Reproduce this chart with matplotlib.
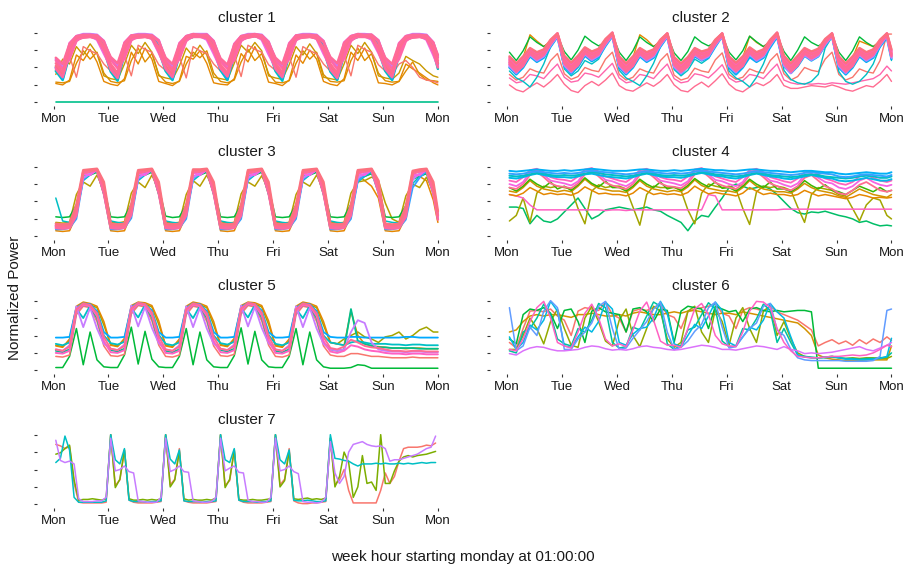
import numpy as np
import matplotlib
matplotlib.use("Agg")
import matplotlib.pyplot as plt

plt.rcParams['font.family'] = ['Liberation Sans', 'DejaVu Sans']

# ---------------- sample hours -----------------
H3 = list(range(1, 167, 3)) + [168]     # clusters 1-6: every 3 hours (57 samples)
H2 = list(range(1, 168, 2))             # cluster 7: every 2 hours (84 samples)
day_ticks = [0, 24, 48, 72, 96, 120, 144, 168]
day_labels = ['Mon', 'Tue', 'Wed', 'Thu', 'Fri', 'Sat', 'Sun', 'Mon']
y_ticks = [0, 0.25, 0.5, 0.75, 1.0]
titles = ['cluster 1', 'cluster 2', 'cluster 3', 'cluster 4', 'cluster 5', 'cluster 6', 'cluster 7']

# ---------------- cluster 1 (values in % of max) -----------------
c1_flat = [0, 0, 0, 0, 0, 0, 0, 0, 0, 0, 0, 0, 0, 0, 0, 0, 0, 0, 0, 0, 0, 0, 0, 0, 0, 0, 0, 0,
           0, 0, 0, 0, 0, 0, 0, 0, 0, 0, 0, 0, 0, 0, 0, 0, 0, 0, 0, 0, 0, 0, 0, 0, 0, 0, 0, 0, 0]
c1_orange1 = [27, 25, 32, 68, 60, 76, 58, 30,
              26, 24, 34, 72, 55, 78, 62, 30,
              27, 24, 31, 66, 62, 74, 56, 28,
              26, 25, 34, 70, 58, 80, 60, 29,
              27, 24, 32, 68, 56, 75, 62, 30,
              26, 24, 34, 72, 60, 78, 58, 28,
              27, 25, 30, 55, 48, 42, 35, 28,
              25]
c1_orange2 = [29, 28, 30, 56, 74, 62, 72, 42,
              30, 28, 31, 60, 78, 58, 70, 40,
              29, 27, 30, 55, 72, 64, 74, 42,
              30, 28, 32, 58, 76, 60, 70, 41,
              29, 28, 31, 56, 74, 62, 72, 40,
              30, 29, 31, 60, 78, 60, 70, 42,
              31, 29, 30, 45, 58, 40, 32, 31,
              30]
c1_orange3 = [40, 62, 55, 80, 68, 84, 70, 38,
              34, 32, 55, 82, 70, 86, 72, 38,
              35, 33, 52, 78, 66, 82, 68, 36,
              34, 32, 56, 82, 72, 86, 74, 38,
              35, 33, 54, 80, 68, 84, 70, 36,
              34, 32, 55, 82, 70, 86, 72, 38,
              35, 33, 42, 66, 60, 55, 45, 38,
              36]
c1_salmon = [46, 40, 66, 36, 80, 74, 70, 55,
             45, 40, 68, 38, 82, 76, 72, 54,
             46, 41, 66, 35, 80, 74, 70, 55,
             45, 40, 68, 37, 82, 76, 72, 54,
             46, 41, 66, 36, 80, 74, 70, 55,
             45, 40, 68, 38, 82, 76, 72, 54,
             45, 40, 55, 60, 50, 36, 32, 30,
             28]
c1_blue = [50, 34, 72, 92, 96, 97, 96, 82,
           52, 35, 73, 93, 96, 97, 95, 81,
           50, 34, 72, 92, 97, 97, 96, 83,
           49, 34, 71, 92, 96, 96, 96, 82,
           50, 35, 72, 93, 96, 97, 95, 81,
           52, 34, 73, 92, 97, 97, 96, 82,
           50, 34, 72, 92, 96, 97, 96, 80,
           55]
c1_cyan = [45, 32, 68, 90, 94, 95, 93, 76,
           44, 31, 69, 91, 95, 95, 93, 75,
           45, 32, 68, 90, 94, 96, 94, 76,
           46, 32, 67, 90, 94, 95, 93, 77,
           45, 31, 68, 91, 95, 95, 93, 76,
           44, 32, 69, 90, 94, 95, 94, 75,
           45, 32, 68, 90, 94, 95, 93, 74,
           48]
c1_purple = [62, 52, 82, 95, 98, 98, 97, 88,
             63, 53, 83, 96, 98, 98, 97, 89,
             62, 52, 82, 95, 98, 98, 98, 88,
             61, 52, 81, 95, 98, 98, 97, 87,
             62, 53, 82, 96, 98, 98, 97, 88,
             63, 52, 83, 95, 98, 98, 97, 89,
             62, 52, 82, 95, 98, 98, 97, 86,
             66]
c1_magenta = [50, 40, 85, 95, 96, 95, 90, 70,
              51, 41, 86, 96, 96, 95, 91, 71,
              50, 40, 85, 95, 97, 95, 90, 70,
              49, 40, 84, 95, 96, 96, 90, 69,
              50, 41, 85, 96, 96, 95, 91, 70,
              51, 40, 86, 95, 97, 95, 90, 71,
              50, 40, 85, 95, 96, 95, 90, 68,
              52]
c1_pink1 = [56, 43, 78, 93, 95, 96, 94, 80,
            55, 42, 79, 94, 95, 95, 93, 79,
            57, 44, 78, 93, 96, 96, 94, 80,
            54, 42, 77, 94, 95, 96, 95, 79,
            56, 43, 78, 93, 95, 95, 93, 78,
            55, 42, 79, 94, 96, 96, 94, 80,
            56, 43, 78, 93, 95, 96, 94, 78,
            60]
c1_pink2 = [48, 36, 70, 90, 93, 94, 92, 74,
            47, 35, 71, 91, 93, 94, 92, 73,
            48, 36, 70, 90, 94, 94, 93, 74,
            49, 37, 69, 90, 93, 95, 92, 75,
            48, 36, 70, 91, 93, 94, 92, 74,
            47, 35, 71, 90, 94, 94, 93, 73,
            48, 36, 70, 90, 93, 94, 92, 72,
            50]
c1_pink3 = [64, 55, 84, 95, 97, 97, 96, 86,
            65, 56, 85, 96, 97, 97, 96, 87,
            64, 55, 84, 95, 98, 97, 97, 86,
            63, 54, 83, 95, 97, 98, 96, 85,
            64, 55, 84, 96, 97, 97, 96, 86,
            65, 56, 85, 95, 98, 97, 97, 87,
            64, 55, 84, 95, 97, 97, 96, 85,
            68]
c1_pink4 = [60, 48, 62, 88, 95, 96, 96, 88,
            61, 49, 63, 89, 95, 96, 96, 89,
            60, 48, 62, 88, 96, 96, 97, 88,
            59, 48, 61, 88, 95, 97, 96, 87,
            60, 49, 62, 89, 95, 96, 96, 88,
            61, 48, 63, 88, 96, 96, 97, 89,
            60, 48, 62, 88, 95, 96, 96, 86,
            64]
c1_pink5 = [52, 39, 74, 91, 93, 94, 92, 77,
            53, 40, 75, 92, 93, 94, 92, 78,
            52, 39, 74, 91, 94, 94, 93, 77,
            51, 39, 73, 91, 93, 95, 92, 76,
            52, 40, 74, 92, 93, 94, 92, 77,
            53, 39, 75, 91, 94, 94, 93, 78,
            52, 39, 74, 91, 93, 94, 92, 75,
            56]

# ---------------- cluster 2 -----------------
c2_low1 = [25, 18, 15, 22, 28, 22, 30, 40,
           26, 17, 14, 24, 30, 24, 32, 42,
           24, 18, 16, 22, 28, 23, 30, 40,
           25, 17, 15, 23, 29, 22, 31, 41,
           26, 18, 15, 22, 28, 24, 30, 40,
           24, 20, 20, 22, 24, 23, 22, 25,
           22, 18, 16, 20, 24, 22, 30, 40,
           30]
c2_low2 = [35, 28, 30, 40, 38, 34, 45, 55,
           36, 29, 31, 42, 40, 36, 46, 56,
           35, 28, 30, 40, 38, 34, 45, 55,
           34, 28, 30, 41, 39, 35, 44, 54,
           35, 29, 31, 40, 38, 34, 45, 55,
           32, 28, 26, 27, 26, 27, 26, 28,
           27, 26, 28, 30, 32, 34, 40, 52,
           45]
c2_low3 = [40, 32, 36, 48, 44, 42, 60, 70,
           41, 33, 37, 50, 46, 44, 62, 72,
           40, 32, 36, 48, 44, 42, 60, 70,
           39, 32, 35, 49, 45, 43, 61, 71,
           40, 33, 36, 48, 44, 42, 60, 70,
           41, 32, 37, 50, 46, 44, 62, 72,
           40, 32, 36, 48, 44, 42, 60, 98,
           98]
c2_cyan = [45, 35, 30, 22, 36, 55, 80, 95,
           48, 38, 45, 60, 55, 62, 82, 96,
           46, 35, 30, 24, 38, 56, 80, 95,
           47, 38, 46, 62, 56, 63, 81, 96,
           45, 35, 30, 22, 36, 55, 80, 95,
           46, 33, 28, 26, 30, 40, 78, 94,
           44, 30, 26, 30, 40, 55, 80, 95,
           60]
c2_orange = [62, 50, 64, 97, 88, 80, 88, 97,
             58, 48, 58, 72, 66, 70, 86, 96,
             62, 50, 64, 97, 90, 80, 88, 97,
             58, 48, 58, 72, 66, 70, 86, 96,
             62, 51, 64, 95, 86, 80, 87, 97,
             58, 48, 58, 72, 66, 70, 86, 96,
             62, 50, 64, 88, 84, 80, 88, 97,
             70]
c2_green = [72, 60, 74, 94, 86, 80, 86, 96,
            73, 61, 75, 95, 87, 81, 87, 97,
            72, 60, 74, 94, 86, 80, 86, 96,
            71, 60, 73, 94, 86, 81, 86, 96,
            72, 61, 74, 95, 87, 80, 87, 96,
            73, 60, 75, 94, 86, 81, 86, 97,
            72, 60, 74, 94, 86, 80, 86, 96,
            74]
c2_blue = [50, 40, 50, 66, 58, 64, 80, 94,
           52, 41, 51, 67, 59, 65, 81, 95,
           50, 40, 50, 66, 58, 64, 80, 94,
           51, 41, 52, 66, 60, 64, 80, 95,
           50, 40, 50, 65, 58, 64, 79, 94,
           52, 42, 52, 67, 60, 66, 82, 95,
           50, 40, 50, 66, 58, 64, 80, 93,
           62]
c2_violet = [52, 42, 54, 68, 60, 66, 82, 95,
             53, 43, 55, 69, 61, 67, 83, 96,
             52, 42, 54, 68, 60, 66, 82, 95,
             51, 42, 53, 68, 61, 66, 82, 95,
             52, 43, 54, 69, 60, 66, 82, 96,
             53, 42, 55, 68, 61, 67, 83, 95,
             52, 42, 54, 68, 60, 66, 82, 95,
             64]
c2_purple2 = [54, 44, 56, 70, 63, 68, 84, 96,
              55, 45, 57, 71, 64, 69, 85, 97,
              54, 44, 56, 70, 63, 68, 84, 96,
              53, 44, 55, 70, 64, 68, 84, 96,
              54, 45, 56, 71, 63, 68, 84, 97,
              55, 44, 57, 70, 64, 69, 85, 96,
              54, 44, 56, 70, 63, 68, 84, 96,
              66]
c2_magenta = [58, 47, 58, 72, 66, 70, 86, 96,
              59, 48, 59, 73, 67, 71, 87, 97,
              58, 47, 58, 72, 66, 70, 86, 96,
              57, 47, 57, 72, 67, 70, 86, 96,
              58, 48, 58, 73, 66, 70, 86, 97,
              59, 47, 59, 72, 67, 71, 87, 96,
              58, 47, 58, 72, 66, 70, 86, 96,
              68]
c2_pink1 = [60, 50, 60, 74, 68, 72, 87, 98,
            61, 51, 61, 75, 69, 73, 88, 99,
            60, 50, 60, 74, 68, 72, 87, 98,
            59, 50, 59, 74, 69, 72, 87, 98,
            60, 51, 60, 75, 68, 72, 87, 99,
            61, 50, 61, 74, 69, 73, 88, 98,
            60, 50, 60, 74, 68, 72, 87, 98,
            70]
c2_pink2 = [55, 44, 52, 70, 62, 68, 84, 97,
            56, 45, 53, 71, 63, 69, 85, 98,
            55, 44, 52, 70, 62, 68, 84, 97,
            54, 44, 51, 70, 63, 68, 84, 97,
            55, 45, 52, 71, 62, 68, 84, 98,
            56, 44, 53, 70, 63, 69, 85, 97,
            55, 44, 52, 70, 62, 68, 84, 97,
            66]
c2_pink3 = [66, 56, 66, 78, 72, 76, 90, 99,
            67, 57, 67, 79, 73, 77, 91, 100,
            66, 56, 66, 78, 72, 76, 90, 99,
            65, 56, 65, 78, 73, 76, 90, 99,
            66, 57, 66, 79, 72, 76, 90, 100,
            67, 56, 67, 78, 73, 77, 91, 99,
            66, 56, 66, 78, 72, 76, 90, 99,
            76]
c2_pink4 = [62, 52, 62, 76, 70, 74, 88, 99,
            63, 53, 63, 77, 71, 75, 89, 100,
            62, 52, 62, 76, 70, 74, 88, 99,
            61, 52, 61, 76, 71, 74, 88, 99,
            62, 53, 62, 77, 70, 74, 88, 100,
            63, 52, 63, 76, 71, 75, 89, 99,
            62, 52, 62, 76, 70, 74, 88, 99,
            72]
c2_pink5 = [57, 46, 56, 72, 64, 70, 85, 97,
            58, 47, 57, 73, 65, 71, 86, 98,
            57, 46, 56, 72, 64, 70, 85, 97,
            56, 46, 55, 72, 65, 70, 85, 97,
            57, 47, 56, 73, 64, 70, 85, 98,
            58, 46, 57, 72, 65, 71, 86, 97,
            57, 46, 56, 72, 64, 70, 85, 97,
            68]
c2_pink6 = [64, 54, 64, 77, 71, 75, 89, 99,
            65, 55, 65, 78, 72, 76, 90, 100,
            64, 54, 64, 77, 71, 75, 89, 99,
            63, 54, 63, 77, 72, 75, 89, 99,
            64, 55, 64, 78, 71, 75, 89, 100,
            65, 54, 65, 77, 72, 76, 90, 99,
            64, 54, 64, 77, 71, 75, 89, 99,
            74]

# ---------------- cluster 3 -----------------
c3_orange = [8, 7, 8, 30, 90, 92, 93, 60,
             8, 7, 8, 32, 90, 92, 93, 60,
             8, 7, 8, 30, 91, 92, 94, 60,
             8, 7, 8, 31, 90, 92, 93, 60,
             8, 7, 8, 30, 90, 92, 93, 60,
             8, 7, 8, 30, 88, 80, 72, 55,
             8, 7, 8, 28, 85, 86, 80, 52,
             20]
c3_olive = [20, 19, 20, 60, 78, 72, 88, 66,
            20, 19, 21, 62, 78, 70, 88, 66,
            20, 19, 20, 60, 80, 72, 88, 66,
            21, 19, 20, 61, 78, 72, 87, 66,
            20, 19, 20, 60, 78, 72, 88, 66,
            20, 19, 20, 62, 78, 80, 85, 80,
            48, 25, 20, 58, 75, 70, 85, 65,
            28]
c3_green = [28, 27, 28, 45, 86, 88, 92, 70,
            28, 27, 28, 46, 86, 88, 92, 70,
            29, 27, 28, 45, 86, 88, 92, 70,
            28, 27, 28, 45, 86, 88, 92, 70,
            28, 27, 28, 45, 86, 88, 92, 70,
            28, 27, 28, 46, 84, 86, 90, 72,
            28, 27, 28, 44, 82, 86, 90, 70,
            30]
c3_cyan = [55, 22, 20, 32, 80, 88, 94, 60,
           22, 20, 19, 32, 80, 88, 94, 60,
           22, 20, 19, 33, 80, 88, 94, 60,
           22, 20, 19, 32, 80, 88, 94, 60,
           22, 20, 19, 32, 80, 88, 94, 60,
           22, 20, 19, 32, 78, 86, 92, 62,
           22, 20, 19, 30, 76, 86, 92, 60,
           35]
c3_blue = [10, 10, 12, 25, 82, 90, 95, 62,
           10, 10, 12, 26, 82, 90, 95, 62,
           10, 10, 12, 25, 83, 90, 95, 62,
           10, 10, 12, 25, 82, 90, 95, 62,
           10, 10, 12, 25, 82, 90, 95, 62,
           10, 10, 12, 25, 80, 88, 94, 64,
           10, 10, 12, 24, 70, 84, 94, 62,
           25]
c3_purple = [14, 13, 14, 35, 84, 90, 95, 65,
             14, 13, 14, 36, 84, 90, 95, 65,
             14, 13, 14, 35, 85, 90, 95, 65,
             14, 13, 14, 35, 84, 90, 95, 65,
             14, 13, 14, 35, 84, 90, 95, 65,
             14, 13, 14, 35, 84, 90, 95, 66,
             14, 13, 14, 34, 82, 90, 95, 65,
             28]
c3_magenta = [16, 15, 17, 40, 90, 88, 96, 70,
              16, 15, 17, 41, 90, 88, 96, 70,
              16, 15, 17, 40, 91, 88, 96, 70,
              16, 15, 17, 40, 90, 88, 96, 70,
              16, 15, 17, 40, 90, 88, 96, 70,
              16, 15, 17, 40, 90, 88, 96, 72,
              16, 15, 17, 38, 88, 88, 96, 70,
              30]
c3_pink1 = [15, 14, 15, 38, 93, 94, 96, 72,
            15, 14, 15, 39, 93, 94, 96, 72,
            15, 14, 15, 38, 94, 94, 96, 72,
            15, 14, 15, 38, 93, 94, 96, 72,
            15, 14, 15, 38, 93, 94, 96, 72,
            15, 14, 15, 38, 93, 94, 96, 74,
            15, 14, 15, 36, 92, 94, 96, 72,
            30]
c3_pink2 = [12, 11, 12, 30, 91, 93, 95, 62,
            12, 11, 12, 31, 91, 93, 95, 62,
            12, 11, 12, 30, 92, 93, 95, 62,
            12, 11, 12, 30, 91, 93, 95, 62,
            12, 11, 12, 30, 91, 93, 95, 62,
            12, 11, 12, 30, 91, 93, 95, 64,
            12, 11, 12, 28, 90, 93, 95, 62,
            24]
c3_pink3 = [18, 17, 18, 45, 95, 96, 97, 78,
            18, 17, 18, 46, 95, 96, 97, 78,
            18, 17, 18, 45, 96, 96, 97, 78,
            18, 17, 18, 45, 95, 96, 97, 78,
            18, 17, 18, 45, 95, 96, 97, 78,
            18, 17, 18, 45, 95, 96, 97, 80,
            18, 17, 18, 43, 94, 96, 97, 78,
            36]

# ---------------- cluster 4 -----------------
c4_greenw = [42, 42, 40, 18, 30, 22, 20, 25,
             35, 45, 55, 40, 25, 30, 38, 40,
             42, 40, 38, 40, 42, 38, 36, 30,
             25, 20, 8, 22, 30, 28, 42, 55,
             70, 75, 72, 68, 70, 72, 68, 60,
             50, 40, 34, 32, 35, 34, 36, 33,
             30, 28, 25, 20, 22, 18, 15, 16,
             15]
c4_olive = [22, 30, 55, 20, 62, 72, 70, 72,
            70, 68, 40, 18, 65, 74, 70, 72,
            72, 68, 42, 16, 60, 72, 70, 70,
            70, 66, 38, 18, 62, 75, 72, 70,
            72, 68, 40, 17, 64, 72, 70, 72,
            70, 66, 42, 20, 60, 70, 68, 66,
            60, 58, 40, 22, 45, 55, 52, 30,
            25]
c4_pinkflat = [60, 58, 55, 45, 38, 38, 38, 38,
               38, 38, 38, 38, 38, 38, 37, 38,
               38, 37, 38, 38, 38, 38, 38, 38,
               38, 38, 38, 38, 38, 60, 58, 38,
               38, 38, 38, 38, 38, 38, 38, 38,
               39, 39, 39, 39, 39, 39, 39, 39,
               39, 39, 39, 39, 39, 39, 39, 39,
               39]
c4_orange1 = [60, 58, 62, 70, 65, 60, 62, 60,
              61, 59, 63, 71, 66, 61, 62, 60,
              60, 58, 62, 70, 65, 60, 62, 60,
              61, 59, 63, 72, 66, 61, 63, 61,
              60, 58, 62, 70, 65, 60, 62, 60,
              60, 58, 60, 66, 62, 58, 60, 58,
              56, 54, 56, 60, 58, 55, 56, 55,
              56]
c4_orange2 = [65, 63, 70, 80, 72, 68, 66, 64,
              66, 64, 72, 82, 74, 69, 67, 65,
              65, 63, 70, 80, 72, 68, 66, 64,
              66, 64, 71, 81, 73, 69, 67, 65,
              65, 63, 70, 80, 72, 68, 66, 64,
              64, 62, 68, 76, 70, 66, 64, 62,
              58, 56, 62, 68, 64, 60, 58, 56,
              60]
c4_green = [70, 65, 72, 82, 75, 70, 78, 68,
            72, 66, 74, 84, 76, 71, 79, 70,
            70, 65, 72, 82, 75, 70, 78, 68,
            71, 66, 73, 83, 76, 71, 78, 69,
            70, 65, 72, 82, 75, 70, 78, 68,
            68, 64, 70, 80, 73, 68, 74, 66,
            64, 60, 66, 72, 68, 64, 70, 64,
            66]
c4_pink3 = [70, 68, 75, 88, 93, 85, 76, 72,
            71, 69, 76, 89, 94, 86, 77, 73,
            70, 68, 75, 88, 93, 85, 76, 72,
            71, 69, 76, 89, 94, 86, 77, 73,
            70, 68, 75, 88, 93, 85, 76, 72,
            68, 66, 72, 84, 88, 80, 72, 68,
            62, 60, 66, 74, 78, 72, 66, 64,
            66]
c4_magenta = [75, 72, 78, 92, 95, 88, 80, 78,
              76, 73, 79, 93, 96, 89, 81, 79,
              75, 72, 78, 92, 95, 88, 80, 78,
              76, 73, 79, 93, 96, 89, 81, 79,
              75, 72, 78, 92, 95, 88, 80, 78,
              74, 71, 76, 88, 90, 84, 78, 76,
              70, 68, 72, 80, 84, 78, 74, 72,
              74]
c4_pink1 = [80, 78, 85, 95, 97, 92, 85, 82,
            81, 79, 86, 96, 98, 93, 86, 83,
            80, 78, 85, 95, 97, 92, 85, 82,
            81, 79, 86, 96, 98, 93, 86, 83,
            80, 78, 85, 95, 97, 92, 85, 82,
            79, 77, 83, 92, 94, 89, 83, 80,
            76, 74, 78, 86, 88, 84, 80, 78,
            80]
c4_blue3 = [84, 83, 85, 88, 90, 88, 86, 85,
            85, 84, 86, 89, 90, 88, 86, 85,
            84, 83, 85, 88, 90, 88, 86, 85,
            85, 84, 86, 89, 91, 89, 87, 86,
            84, 83, 85, 88, 90, 88, 86, 85,
            83, 82, 84, 86, 88, 86, 84, 83,
            80, 79, 80, 82, 84, 82, 80, 80,
            82]
c4_cyan = [87, 86, 87, 89, 91, 90, 88, 87,
           88, 87, 88, 90, 92, 91, 89, 88,
           87, 86, 87, 89, 91, 90, 88, 87,
           88, 87, 88, 90, 92, 91, 89, 88,
           87, 86, 87, 89, 91, 90, 88, 87,
           86, 85, 86, 88, 89, 88, 86, 85,
           84, 83, 84, 86, 87, 86, 84, 84,
           86]
c4_blue2 = [90, 89, 90, 92, 93, 92, 91, 90,
            91, 90, 91, 93, 94, 93, 92, 91,
            90, 89, 90, 92, 93, 92, 91, 90,
            91, 90, 91, 93, 94, 93, 92, 91,
            90, 89, 90, 92, 93, 92, 91, 90,
            89, 88, 89, 91, 92, 91, 90, 89,
            86, 85, 86, 88, 89, 88, 87, 86,
            88]
c4_blue1 = [94, 93, 94, 95, 96, 95, 94, 94,
            95, 94, 95, 96, 97, 96, 95, 94,
            94, 94, 95, 96, 96, 95, 94, 94,
            95, 94, 95, 96, 97, 96, 95, 95,
            94, 94, 95, 96, 96, 95, 94, 94,
            93, 92, 93, 94, 94, 93, 92, 92,
            90, 89, 90, 91, 92, 91, 90, 90,
            92]

# ---------------- cluster 5 -----------------
c5_green = [4, 4, 20, 60, 8, 55, 15, 5,
            4, 4, 22, 62, 9, 56, 16, 5,
            4, 4, 20, 60, 8, 55, 15, 5,
            4, 4, 21, 61, 9, 56, 15, 5,
            4, 4, 20, 60, 8, 55, 15, 5,
            3, 3, 3, 4, 8, 7, 3, 3,
            3, 3, 3, 3, 3, 3, 3, 3,
            3]
c5_salmon = [20, 19, 22, 80, 92, 90, 70, 35,
             21, 20, 23, 81, 93, 91, 71, 36,
             20, 19, 22, 80, 92, 90, 70, 35,
             21, 20, 23, 81, 93, 91, 71, 36,
             20, 19, 22, 80, 92, 90, 70, 35,
             22, 20, 20, 24, 24, 22, 20, 20,
             19, 18, 18, 18, 19, 18, 18, 18,
             18]
c5_olive = [36, 34, 42, 85, 95, 94, 90, 65,
            37, 35, 43, 86, 96, 95, 91, 66,
            36, 34, 42, 85, 95, 94, 90, 65,
            37, 35, 43, 86, 96, 95, 91, 66,
            36, 34, 42, 85, 95, 94, 90, 65,
            40, 38, 45, 50, 55, 48, 45, 40,
            48, 50, 55, 45, 50, 58, 62, 55,
            55]
c5_orange = [35, 33, 45, 92, 98, 96, 92, 70,
             36, 34, 46, 93, 98, 97, 93, 71,
             35, 33, 45, 92, 98, 96, 92, 70,
             36, 34, 46, 93, 98, 97, 93, 71,
             35, 33, 45, 92, 98, 96, 92, 70,
             40, 38, 36, 85, 50, 38, 35, 34,
             33, 32, 32, 31, 32, 32, 31, 31,
             31]
c5_green2 = [28, 26, 30, 85, 94, 92, 75, 40,
             29, 27, 31, 86, 95, 93, 76, 41,
             28, 26, 30, 85, 94, 92, 75, 40,
             29, 27, 31, 86, 95, 93, 76, 41,
             28, 26, 30, 85, 94, 92, 75, 40,
             30, 28, 30, 88, 42, 38, 35, 33,
             33, 32, 32, 32, 32, 31, 31, 31,
             31]
c5_blue = [47, 47, 48, 90, 96, 95, 85, 55,
           47, 47, 48, 91, 97, 95, 86, 55,
           47, 47, 48, 90, 96, 95, 85, 55,
           47, 47, 48, 91, 97, 95, 86, 55,
           47, 47, 48, 90, 96, 95, 85, 55,
           48, 47, 47, 48, 48, 47, 47, 47,
           47, 47, 47, 48, 48, 47, 47, 47,
           47]
c5_cyan = [38, 36, 40, 88, 75, 93, 80, 50,
           39, 37, 41, 89, 76, 94, 81, 51,
           38, 36, 40, 88, 75, 93, 80, 50,
           39, 37, 41, 89, 76, 94, 81, 51,
           38, 36, 40, 88, 75, 93, 80, 50,
           40, 38, 36, 40, 42, 40, 38, 38,
           38, 37, 37, 36, 37, 37, 36, 36,
           36]
c5_purple = [30, 28, 36, 92, 62, 90, 60, 38,
             31, 29, 37, 93, 63, 91, 61, 39,
             30, 28, 36, 92, 62, 90, 60, 38,
             31, 29, 37, 93, 63, 91, 61, 39,
             30, 28, 36, 92, 62, 90, 60, 38,
             30, 28, 30, 55, 72, 68, 40, 30,
             28, 27, 27, 26, 27, 27, 26, 26,
             26]
c5_pink2 = [25, 24, 28, 85, 94, 92, 78, 42,
            26, 25, 29, 86, 95, 93, 79, 43,
            25, 24, 28, 85, 94, 92, 78, 42,
            26, 25, 29, 86, 95, 93, 79, 43,
            25, 24, 28, 85, 94, 92, 78, 42,
            27, 25, 28, 36, 34, 30, 28, 27,
            25, 24, 24, 23, 24, 24, 23, 23,
            23]
c5_pink1 = [30, 28, 34, 88, 96, 94, 82, 48,
            31, 29, 35, 89, 97, 95, 83, 49,
            30, 28, 34, 88, 96, 94, 82, 48,
            31, 29, 35, 89, 97, 95, 83, 49,
            30, 28, 34, 88, 96, 94, 82, 48,
            32, 30, 34, 44, 40, 35, 33, 32,
            30, 28, 28, 27, 28, 28, 27, 27,
            27]

# ---------------- cluster 6 -----------------
c6_red = [40, 32, 60, 85, 86, 84, 88, 78,
          72, 50, 85, 90, 88, 86, 98, 80,
          75, 55, 85, 88, 86, 90, 95, 80,
          76, 60, 84, 88, 90, 92, 96, 82,
          78, 60, 86, 90, 88, 85, 92, 84,
          80, 76, 72, 65, 58, 35, 40, 44,
          38, 42, 36, 44, 38, 45, 40, 48,
          43]
c6_orange = [55, 58, 70, 78, 80, 78, 80, 80,
             78, 76, 80, 80, 82, 80, 78, 78,
             80, 78, 82, 84, 82, 80, 80, 82,
             84, 82, 85, 86, 84, 82, 80, 82,
             82, 80, 84, 82, 80, 78, 76, 74,
             72, 70, 68, 60, 50, 22, 18, 16,
             15, 14, 14, 14, 15, 15, 15, 15,
             35]
c6_olive = [30, 30, 50, 75, 60, 38, 70, 88,
            60, 36, 33, 75, 92, 70, 42, 35,
            72, 88, 50, 34, 60, 92, 85, 45,
            33, 40, 85, 92, 55, 40, 88, 70,
            36, 75, 90, 60, 40, 85, 92, 50,
            70, 45, 25, 20, 18, 18, 19, 20,
            18, 17, 18, 17, 18, 18, 17, 17,
            20]
c6_green = [45, 38, 80, 88, 86, 90, 82, 60,
            86, 88, 70, 40, 85, 90, 84, 82,
            80, 55, 88, 90, 84, 70, 88, 86,
            40, 85, 92, 90, 88, 60, 92, 88,
            84, 86, 70, 88, 90, 86, 84, 86,
            84, 85, 86, 86, 84, 3, 3, 3,
            3, 3, 3, 3, 3, 3, 3, 3,
            3]
c6_teal = [28, 25, 55, 60, 75, 95, 80, 45,
           38, 35, 60, 55, 72, 96, 90, 40,
           32, 34, 62, 58, 78, 98, 92, 38,
           30, 36, 58, 62, 80, 97, 88, 42,
           34, 35, 60, 58, 74, 95, 86, 40,
           60, 40, 22, 20, 19, 18, 18, 19,
           18, 17, 17, 16, 17, 17, 18, 19,
           25]
c6_blue = [48, 30, 40, 65, 58, 72, 99, 85,
           35, 33, 48, 62, 55, 70, 98, 88,
           40, 36, 52, 60, 62, 75, 99, 82,
           38, 34, 50, 66, 60, 78, 98, 86,
           40, 35, 48, 62, 58, 72, 96, 84,
           75, 48, 22, 19, 18, 18, 19, 20,
           18, 16, 16, 15, 15, 16, 17, 20,
           46]
c6_lav = [90, 28, 35, 62, 50, 85, 100, 90,
          30, 30, 45, 55, 68, 92, 99, 60,
          30, 32, 46, 58, 70, 88, 98, 55,
          30, 33, 42, 56, 66, 90, 98, 62,
          32, 34, 48, 60, 68, 92, 96, 58,
          50, 30, 18, 15, 14, 14, 14, 14,
          14, 13, 13, 13, 13, 14, 20, 86,
          88]
c6_purple = [24, 22, 28, 32, 34, 33, 30, 28,
             28, 29, 30, 33, 35, 34, 31, 29,
             30, 29, 31, 34, 35, 33, 32, 30,
             29, 30, 32, 34, 36, 35, 33, 30,
             30, 29, 31, 33, 35, 34, 32, 30,
             34, 30, 28, 24, 25, 24, 25, 26,
             28, 30, 32, 34, 30, 28, 32, 36,
             40]
c6_pink = [30, 28, 45, 70, 90, 99, 75, 40,
           35, 32, 55, 82, 95, 75, 45, 35,
           38, 34, 58, 85, 98, 72, 42, 36,
           36, 33, 60, 88, 96, 80, 50, 38,
           35, 34, 55, 85, 99, 98, 90, 60,
           40, 28, 20, 19, 18, 18, 19, 20,
           20, 21, 22, 21, 22, 25, 30, 36,
           34]

# ---------------- cluster 7 (2-hourly) -----------------
c7_red = [86, 84, 80, 83, 30, 3, 2, 2, 2, 2, 2, 3,
          100, 27, 35, 78, 6, 3, 2, 2, 2, 2, 3, 4,
          100, 28, 36, 80, 5, 3, 2, 2, 2, 2, 3, 4,
          100, 27, 34, 78, 6, 3, 2, 2, 2, 2, 3, 4,
          100, 28, 36, 80, 5, 2, 1, 1, 2, 2, 3, 4,
          95, 28, 35, 50, 20, 2, 2, 2, 2, 2, 2, 20,
          45, 30, 40, 62, 80, 82, 82, 82, 83, 85, 84, 88]
c7_green = [72, 74, 80, 85, 35, 6, 7, 7, 8, 7, 6, 8,
            100, 24, 36, 78, 8, 6, 6, 7, 6, 7, 6, 8,
            100, 25, 35, 76, 8, 6, 7, 6, 6, 7, 6, 9,
            100, 24, 36, 78, 7, 6, 6, 7, 6, 6, 7, 8,
            100, 25, 34, 76, 8, 7, 8, 9, 7, 8, 7, 9,
            95, 25, 40, 75, 60, 10, 25, 70, 30, 32, 20, 100,
            30, 30, 48, 62, 68, 70, 68, 70, 71, 72, 74, 76]
c7_cyan = [60, 66, 98, 78, 10, 3, 3, 3, 3, 3, 3, 5,
           100, 64, 58, 80, 6, 4, 4, 4, 3, 4, 4, 5,
           100, 65, 58, 78, 5, 4, 4, 4, 3, 4, 4, 5,
           100, 64, 60, 80, 6, 4, 4, 4, 3, 4, 4, 5,
           100, 64, 58, 78, 6, 5, 5, 6, 5, 4, 4, 5,
           100, 66, 65, 63, 62, 58, 55, 58, 58, 58, 59, 58,
           59, 58, 58, 59, 58, 59, 58, 59, 60, 59, 60, 60]
c7_purple = [92, 63, 60, 62, 58, 8, 4, 4, 4, 5, 5, 10,
             95, 48, 50, 55, 47, 45, 5, 4, 3, 3, 3, 10,
             95, 47, 50, 55, 47, 46, 5, 4, 3, 3, 4, 10,
             95, 48, 52, 55, 46, 45, 6, 4, 4, 3, 3, 10,
             95, 48, 50, 55, 47, 44, 4, 3, 3, 2, 3, 10,
             90, 45, 30, 40, 75, 86, 88, 90, 86, 84, 83, 84,
             80, 62, 64, 64, 66, 68, 70, 72, 76, 80, 82, 98]

# ---------------- styles (colour, line width; drawing order) -----------------
panels = [
    (H3, [(c1_flat, '#00C08B', 1.2), (c1_orange1, '#E58700', 1.0), (c1_orange2, '#DE8C00', 1.0),
          (c1_orange3, '#C99800', 1.0), (c1_salmon, '#F8766D', 1.0), (c1_cyan, '#00BFC4', 1.8),
          (c1_blue, '#00B0F6', 1.8), (c1_purple, '#C77CFF', 1.8), (c1_magenta, '#F564E3', 1.8),
          (c1_pink5, '#FC717F', 1.8), (c1_pink2, '#FF689F', 1.8), (c1_pink4, '#FF66A8', 1.8),
          (c1_pink1, '#FF6C91', 1.8), (c1_pink3, '#FF6A98', 1.8)]),
    (H3, [(c2_low1, '#FF6C91', 1.0), (c2_low2, '#FF65AC', 1.0), (c2_low3, '#F8766D', 1.0),
          (c2_cyan, '#00BFC4', 1.0), (c2_orange, '#E58700', 1.0), (c2_green, '#00BA38', 1.0),
          (c2_blue, '#00B0F6', 1.7), (c2_violet, '#B983FF', 1.7), (c2_purple2, '#DB72FB', 1.7),
          (c2_magenta, '#E76BF3', 1.7), (c2_pink2, '#FF689F', 1.7), (c2_pink5, '#FF6A98', 1.7),
          (c2_pink4, '#FF62BC', 1.7), (c2_pink1, '#FF6C91', 1.7), (c2_pink6, '#FF64B0', 1.7),
          (c2_pink3, '#FC717F', 1.7)]),
    (H3, [(c3_orange, '#E58700', 1.1), (c3_olive, '#B79F00', 1.1), (c3_green, '#00BA38', 1.1),
          (c3_cyan, '#00BFC4', 1.1), (c3_blue, '#35A2FF', 1.3), (c3_purple, '#C77CFF', 1.6),
          (c3_magenta, '#F564E3', 1.6), (c3_pink2, '#FF689F', 1.8), (c3_pink1, '#FF6C91', 1.8),
          (c3_pink3, '#FC717F', 1.8)]),
    (H3, [(c4_greenw, '#00BE67', 1.1), (c4_olive, '#A3A500', 1.1), (c4_pinkflat, '#FF61C3', 1.1),
          (c4_orange1, '#E58700', 1.1), (c4_orange2, '#D39200', 1.1), (c4_green, '#39B600', 1.1),
          (c4_pink3, '#FF6C91', 1.3), (c4_magenta, '#F564E3', 1.3), (c4_pink1, '#FF62BC', 1.3),
          (c4_blue3, '#00B8E7', 1.4), (c4_cyan, '#00BFC4', 1.4), (c4_blue2, '#35A2FF', 1.4),
          (c4_blue1, '#00B0F6', 1.4)]),
    (H3, [(c5_green, '#00BA38', 1.1), (c5_salmon, '#F8766D', 1.1), (c5_olive, '#A3A500', 1.1),
          (c5_orange, '#E58700', 1.1), (c5_green2, '#00C08B', 1.3), (c5_blue, '#00A9FF', 1.3),
          (c5_cyan, '#00BFC4', 1.3), (c5_purple, '#C77CFF', 1.3), (c5_pink2, '#FF61C3', 1.4),
          (c5_pink1, '#FF6C91', 1.4)]),
    (H3, [(c6_red, '#F8766D', 1.1), (c6_orange, '#D39200', 1.1), (c6_olive, '#93AA00', 1.1),
          (c6_green, '#00BA38', 1.1), (c6_teal, '#00C19F', 1.1), (c6_blue, '#00B9E3', 1.1),
          (c6_lav, '#619CFF', 1.1), (c6_purple, '#DB72FB', 1.1), (c6_pink, '#FF61C3', 1.1)]),
    (H2, [(c7_red, '#F8766D', 1.1), (c7_green, '#7CAE00', 1.1), (c7_cyan, '#00BFC4', 1.1),
          (c7_purple, '#C77CFF', 1.1)]),
]

# sanity check on lengths
bad = []
for pi, (hrs, series) in enumerate(panels):
    for si, (vals, col, lw) in enumerate(series):
        if len(vals) != len(hrs):
            bad.append((pi + 1, si, len(vals), len(hrs)))
if bad:
    raise ValueError("length mismatch: %r" % bad)

# ---------------- layout -----------------
W, H = 909, 567
fig = plt.figure(figsize=(W / 100, H / 100), dpi=100)
col_left = [36.7 / W, 490.3 / W]
ax_w = 420.3 / W
ax_h = 76.6 / H
row_bottom = [(H - (105.8 + 134 * r)) / H for r in range(4)]

for i, (hrs, series) in enumerate(panels):
    r, c = divmod(i, 2)
    ax = fig.add_axes([col_left[c], row_bottom[r], ax_w, ax_h])
    for vals, col, lw in series:
        ax.plot(hrs, np.asarray(vals) / 100.0, color=col, lw=lw,
                solid_joinstyle='round', solid_capstyle='round')
    ax.set_xlim(1 - 0.05 * 167, 168 + 0.05 * 167)
    ax.set_ylim(-0.05, 1.05)
    ax.set_xticks(day_ticks)
    ax.set_xticklabels(day_labels, fontsize=9.5, color='#1a1a1a')
    ax.set_yticks(y_ticks)
    ax.set_yticklabels([])
    for s in ax.spines.values():
        s.set_visible(False)
    ax.tick_params(axis='x', direction='out', length=2.4, width=0.8, color='#333333', pad=2.5)
    ax.tick_params(axis='y', direction='out', length=2.4, width=0.8, color='#333333', pad=1)
    ax.set_title(titles[i], fontsize=11, pad=5, color='#1a1a1a')

fig.text(0.0165, 0.475, 'Normalized Power', rotation=90, ha='center', va='center',
         fontsize=11, color='#1a1a1a')
fig.text(0.509, 0.0176, 'week hour starting monday at 01:00:00', ha='center', va='center',
         fontsize=11, color='#1a1a1a')

fig.savefig('out.png', dpi=100)
